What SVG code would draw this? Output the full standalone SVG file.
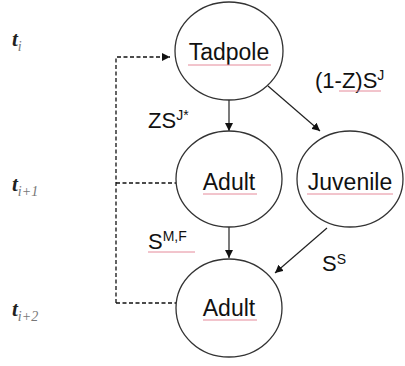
<svg xmlns="http://www.w3.org/2000/svg" width="405" height="366" viewBox="0 0 405 366">
<defs>
<marker id="ah" viewBox="0 0 10 10" refX="10" refY="5" markerWidth="8" markerHeight="8" markerUnits="userSpaceOnUse" orient="auto">
<path d="M0,0 L10,5 L0,10 z" fill="#111"/>
</marker>
<style>
.node{fill:#fff;stroke:#333;stroke-width:1.3}
.lbl{font-family:"Liberation Sans",Arial,sans-serif;font-size:23px;fill:#111;text-anchor:middle}
.elbl{font-family:"Liberation Sans",Arial,sans-serif;font-size:22px;fill:#111}
.sup{font-size:14px}
.conn{fill:none;stroke:#222;stroke-width:1.2}
.dash{fill:none;stroke:#111;stroke-width:1.3;stroke-dasharray:4 2.5}
.tt{font-family:"Liberation Serif","Times New Roman",serif;font-style:italic;font-weight:bold;font-size:21px;fill:#222}
.ts{font-family:"Liberation Serif","Times New Roman",serif;font-style:italic;font-weight:normal;font-size:14px;fill:#777}
.sq{fill:none;stroke:#e58a9a;stroke-width:1}
</style>
</defs>
<rect width="405" height="366" fill="#fff"/>
<g id="time-labels">
<text x="12" y="46" class="tt">t<tspan class="ts" dy="5">i</tspan></text>
<text x="12" y="191" class="tt">t<tspan class="ts" dy="5">i+1</tspan></text>
<text x="12" y="316" class="tt">t<tspan class="ts" dy="5">i+2</tspan></text>
</g>
<g id="connectors">
<path class="dash" d="M116,303 L116,57 L170,57" marker-end="url(#ah)"/>
<path class="dash" d="M116,183 L176,183"/>
<path class="dash" d="M116,303 L176,303"/>
<line class="conn" x1="229" y1="100" x2="229" y2="131" marker-end="url(#ah)"/>
<line class="conn" x1="268" y1="86" x2="320" y2="131" marker-end="url(#ah)"/>
<line class="conn" x1="229" y1="227" x2="229" y2="258" marker-end="url(#ah)"/>
<line class="conn" x1="327" y1="228" x2="275" y2="273" marker-end="url(#ah)"/>
<text x="148" y="128" class="elbl">ZS<tspan class="sup" dy="-8">J*</tspan></text>
<text x="315" y="88" class="elbl">(1-Z)S<tspan class="sup" dy="-8">J</tspan></text>
<path class="sq" d="M339,91 L381,91"/>
<text x="148" y="249" class="elbl">S<tspan class="sup" dy="-8">M,F</tspan></text>
<path class="sq" d="M148,252 L195,252"/>
<text x="322" y="271" class="elbl">S<tspan class="sup" dy="-7">S</tspan></text>
</g>
<g id="tadpole">
<ellipse class="node" cx="229" cy="51" rx="54" ry="49"/>
<text x="229" y="60" class="lbl">Tadpole</text>
<path class="sq" d="M188,65 L271,65"/>
</g>
<g id="adult1">
<ellipse class="node" cx="229" cy="179" rx="53" ry="48"/>
<text x="229" y="190" class="lbl">Adult</text>
<path class="sq" d="M203,194 L257,194"/>
</g>
<g id="juvenile">
<ellipse class="node" cx="350" cy="179" rx="53" ry="48"/>
<text x="350" y="190" class="lbl">Juvenile</text>
<path class="sq" d="M307,194 L393,194"/>
</g>
<g id="adult2">
<ellipse class="node" cx="229" cy="308" rx="53" ry="49"/>
<text x="229" y="316" class="lbl">Adult</text>
<path class="sq" d="M203,320 L257,320"/>
</g>
</svg>
